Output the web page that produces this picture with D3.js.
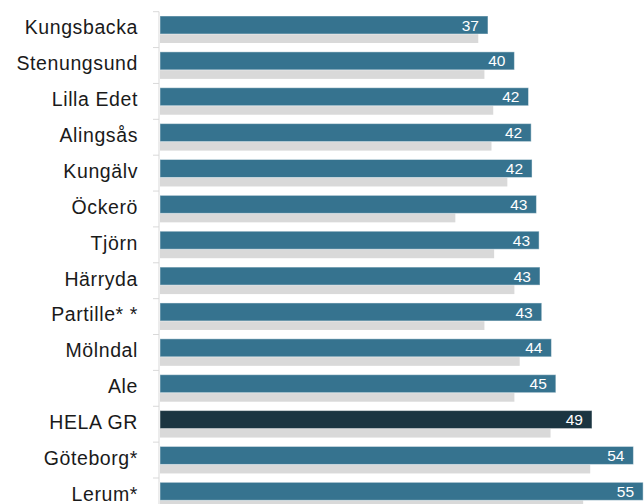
<!DOCTYPE html>
<html>
<head>
<meta charset="utf-8">
<script src="https://cdn.jsdelivr.net/npm/d3@7"></script>
<style>
  body { margin: 0; background: #fff; }
  svg { display: block; }
</style>
</head>
<body>
<div id="chart"></div>
<script>
// categories top to bottom
var categories = ["Kungsbacka", "Stenungsund", "Lilla Edet", "Alingsås", "Kungälv", "Öckerö", "Tjörn",
    "Härryda", "Partille* *", "Mölndal", "Ale", "HELA GR", "Göteborg*", "Lerum*"];
// current values (blue bars, labelled)
var currentValues = [37.2, 40.2, 41.8, 42.1, 42.2, 42.7, 43.0, 43.1, 43.3, 44.4, 44.9, 49.0, 53.7, 54.8];
var currentLabels = ["37", "40", "42", "42", "42", "43", "43", "43", "43", "44", "45", "49", "54", "55"];
// earlier values (grey bars)
var previousValues = [36.1, 36.8, 37.8, 37.6, 39.4, 33.5, 37.9, 40.2, 36.8, 40.8, 40.2, 44.3, 48.8, 48.0];

var width = 644, height = 504;
var left = 160;

var svg = d3.select("#chart").append("svg")
    .attr("width", width)
    .attr("height", height);

var x = d3.scaleLinear().domain([0, 54.9]).range([left, 644]);

var step = 35.87;
var y = d3.scaleBand()
    .domain(categories)
    .range([11.7, 11.7 + step * categories.length])
    .padding(0);

var blueTop = 4.3, blueH = 18, greyH = 9;

// axis with outer ticks at band edges
var axisG = svg.append("g").attr("transform", "translate(" + (left - 1) + ",0)");
axisG.append("line")
    .attr("x1", 0).attr("x2", 0)
    .attr("y1", y.range()[0]).attr("y2", height)
    .attr("stroke", "#d9d9d9");
axisG.selectAll("line.tick")
    .data(categories)
    .enter().append("line")
    .attr("class", "tick")
    .attr("x1", -6).attr("x2", 0)
    .attr("y1", d => y(d)).attr("y2", d => y(d))
    .attr("stroke", "#d9d9d9");

// category labels
svg.selectAll("text.cat")
    .data(categories)
    .enter().append("text")
    .attr("class", "cat")
    .attr("x", 138)
    .attr("y", d => y(d) + y.bandwidth() / 2 - 2)
    .attr("dy", "0.35em")
    .attr("text-anchor", "end")
    .attr("font-family", "Liberation Sans, Arial, sans-serif")
    .attr("font-size", 19.5)
    .attr("letter-spacing", 0.6)
    .attr("fill", "#1a1a1a")
    .text(d => d);

// grey bars
svg.selectAll("rect.prev")
    .data(categories)
    .enter().append("rect")
    .attr("class", "prev")
    .attr("x", x(0))
    .attr("y", d => y(d) + blueTop + blueH)
    .attr("width", (d, i) => x(previousValues[i]) - x(0))
    .attr("height", greyH)
    .attr("fill", "#d9d9d9");

// blue bars
svg.selectAll("rect.cur")
    .data(categories)
    .enter().append("rect")
    .attr("class", "cur")
    .attr("x", x(0))
    .attr("y", d => y(d) + blueTop)
    .attr("width", (d, i) => x(currentValues[i]) - x(0))
    .attr("height", blueH)
    .attr("fill", d => d === "HELA GR" ? "#1b3541" : "#36738f")
    .attr("stroke", "rgba(255,255,255,0.45)")
    .attr("stroke-width", 1);

// value labels
svg.selectAll("text.val")
    .data(categories)
    .enter().append("text")
    .attr("class", "val")
    .attr("x", (d, i) => x(currentValues[i]) - 9)
    .attr("y", d => y(d) + blueTop + blueH / 2)
    .attr("dy", "0.36em")
    .attr("text-anchor", "end")
    .attr("font-family", "Liberation Sans, Arial, sans-serif")
    .attr("font-size", 15.5)
    .attr("fill", "#ffffff")
    .text((d, i) => currentLabels[i]);
</script>
</body>
</html>
